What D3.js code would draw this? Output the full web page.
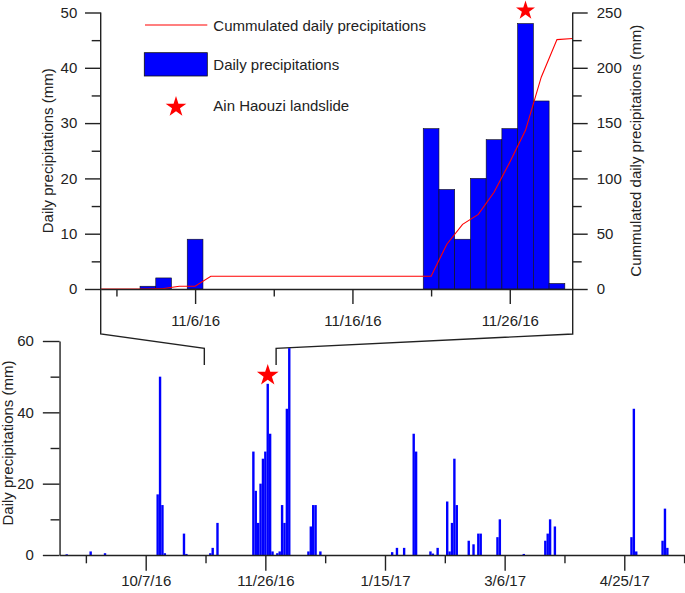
<!DOCTYPE html>
<html lang="en">

<head>
  <meta charset="UTF-8">
  <title>Daily precipitations</title>
  <script src="https://d3js.org/d3.v7.min.js"></script>
  <style>
    body { margin: 0; background: #fff; }
    text { font-family: "Liberation Sans", Arial, sans-serif; font-size: 15px; fill: #222; }
  </style>
</head>

<body>
  <script>
    // ---- data ----
    // zoomed window, daily precipitations (mm)
    const topDays = ["2016-11-03", "2016-11-04", "2016-11-06", "2016-11-21", "2016-11-22", "2016-11-23",
      "2016-11-24", "2016-11-25", "2016-11-26", "2016-11-27", "2016-11-28", "2016-11-29"];
    const topDaily = [0.5, 2, 9, 29, 18, 9, 20, 27, 29, 48, 34, 1];

    // cumulated precipitations (mm)
    const cumDays = ["2016-10-31", "2016-11-03", "2016-11-04", "2016-11-05", "2016-11-06", "2016-11-07",
      "2016-11-21", "2016-11-22", "2016-11-23", "2016-11-24", "2016-11-25", "2016-11-26",
      "2016-11-27", "2016-11-28", "2016-11-29", "2016-11-30"];
    const cumValues = [0, 0, 0.5, 2.5, 2.5, 11.5, 11.5, 40.5, 58.5, 67.5, 87.5, 114.5, 143.5, 191.5, 225.5, 226.5];

    // full season, daily precipitations (mm)
    const seasonDays = [
      "2016-09-04", "2016-09-14", "2016-09-20",
      "2016-10-12", "2016-10-13", "2016-10-14", "2016-10-15", "2016-10-23", "2016-10-24",
      "2016-11-03", "2016-11-04", "2016-11-06",
      "2016-11-21", "2016-11-22", "2016-11-23", "2016-11-24", "2016-11-25", "2016-11-26", "2016-11-27", "2016-11-28", "2016-11-29",
      "2016-12-01", "2016-12-02", "2016-12-03", "2016-12-04", "2016-12-05", "2016-12-06",
      "2016-12-14", "2016-12-15", "2016-12-16", "2016-12-17", "2016-12-19",
      "2017-01-18", "2017-01-20", "2017-01-23", "2017-01-27", "2017-01-28",
      "2017-02-03", "2017-02-04", "2017-02-06", "2017-02-10", "2017-02-11", "2017-02-12", "2017-02-13", "2017-02-14",
      "2017-02-19", "2017-02-21", "2017-02-23", "2017-02-24",
      "2017-03-03", "2017-03-04", "2017-03-14", "2017-03-23", "2017-03-24", "2017-03-25", "2017-03-27",
      "2017-04-28", "2017-04-29", "2017-04-30",
      "2017-05-11", "2017-05-12", "2017-05-13"];
    const seasonValues = [
      0.2, 1, 0.5,
      17, 50, 14, 0.5, 6, 0.3,
      0.5, 2, 9,
      29, 18, 9, 20, 27, 29, 48, 34, 1,
      0.5, 1, 14, 9, 41, 58,
      1, 8, 14, 14, 1,
      0.8, 2, 2, 34, 29,
      1, 0.4, 2, 15, 1, 9, 27, 14,
      4, 3, 6, 6,
      5, 10, 0.3, 4, 6, 10, 8,
      5, 41, 1,
      4, 13, 2];

    const landslideDay = "2016-11-27";
    const landslideValue = 48;

    const topRange = ["2016-10-31", "2016-11-30"];
    const topMajorTicks = ["2016-11-06", "2016-11-16", "2016-11-26"];
    const topMinorTicks = ["2016-11-01", "2016-11-11", "2016-11-21"];
    const seasonRange = ["2016-09-01", "2017-05-21"];
    const seasonMajorTicks = ["2016-10-07", "2016-11-26", "2017-01-15", "2017-03-06", "2017-04-25"];
    const seasonMinorTicks = ["2016-09-12", "2016-11-01", "2016-12-21", "2017-02-09", "2017-03-31", "2017-05-20"];

    const legendLabels = ["Cummulated daily precipitations", "Daily precipitations", "Ain Haouzi landslide"];

    // ---- setup ----
    const parse = d3.utcParse("%Y-%m-%d");
    const fmt = d3.utcFormat("%-m/%-d/%y");
    const DAY = 864e5;
    const blue = "#0000ff";
    const red = "#ff0000";
    const ink = "#222";

    const svg = d3.select("body")
      .append("svg")
      .attr("width", 685)
      .attr("height", 593);

    // top chart scales
    const xTop = d3.scaleUtc().domain(topRange.map(parse)).range([100.7, 572.7]);
    const yTop = d3.scaleLinear().domain([0, 50]).range([289, 12.5]);
    const yCum = d3.scaleLinear().domain([0, 250]).range([289, 12.5]);

    // bottom chart scales
    const xBot = d3.scaleUtc().domain(seasonRange.map(parse)).range([59.55, 686.5]);
    const yBot = d3.scaleLinear().domain([0, 60]).range([555, 341]);

    const styleAxis = g => {
      g.selectAll("path, line").attr("stroke", ink).attr("stroke-width", 1.4);
      g.selectAll("text").attr("font-size", 15).attr("font-family", null).attr("fill", ink);
    };

    // ---- top chart ----
    const topBars = topDays.map((d, i) => ({ date: parse(d), value: topDaily[i] }));
    const topW = xTop(new Date(DAY)) - xTop(new Date(0));

    svg.append("g")
      .selectAll("rect")
      .data(topBars)
      .join("rect")
      .attr("x", d => xTop(d.date) - topW / 2)
      .attr("y", d => yTop(d.value))
      .attr("width", topW)
      .attr("height", d => yTop(0) - yTop(d.value))
      .attr("fill", blue)
      .attr("stroke", "#111")
      .attr("stroke-width", 0.6);

    const cum = cumDays.map((d, i) => ({ date: parse(d), value: cumValues[i] }));
    svg.append("path")
      .datum(cum)
      .attr("fill", "none")
      .attr("stroke", red)
      .attr("stroke-width", 1.1)
      .attr("d", d3.line().x(d => xTop(d.date)).y(d => yCum(d.value)));

    // top x axis
    svg.append("g")
      .attr("transform", `translate(0,${yTop(0)})`)
      .call(d3.axisBottom(xTop).tickValues(topMajorTicks.map(parse)).tickFormat(fmt)
        .tickSize(15).tickSizeOuter(0).tickPadding(11))
      .call(styleAxis);
    svg.append("g")
      .attr("transform", `translate(0,${yTop(0)})`)
      .call(d3.axisBottom(xTop).tickValues(topMinorTicks.map(parse)).tickFormat("").tickSize(7.5))
      .call(g => g.select(".domain").remove())
      .call(styleAxis);

    // top left axis
    svg.append("g")
      .attr("transform", `translate(${xTop.range()[0]},0)`)
      .call(d3.axisLeft(yTop).tickValues(d3.range(0, 51, 10)).tickSize(15.7).tickPadding(7.7))
      .call(g => g.select(".domain").remove())
      .call(styleAxis);
    svg.append("g")
      .attr("transform", `translate(${xTop.range()[0]},0)`)
      .call(d3.axisLeft(yTop).tickValues(d3.range(5, 50, 10)).tickFormat("").tickSize(9))
      .call(g => g.select(".domain").remove())
      .call(styleAxis);

    // top right axis
    svg.append("g")
      .attr("transform", `translate(${xTop.range()[1]},0)`)
      .call(d3.axisRight(yCum).tickValues(d3.range(0, 251, 50)).tickSize(15).tickPadding(9))
      .call(g => g.select(".domain").remove())
      .call(styleAxis);
    svg.append("g")
      .attr("transform", `translate(${xTop.range()[1]},0)`)
      .call(d3.axisRight(yCum).tickValues(d3.range(25, 250, 50)).tickFormat("").tickSize(9))
      .call(g => g.select(".domain").remove())
      .call(styleAxis);

    // axis titles
    svg.append("text")
      .attr("transform", `translate(52.5,${(yTop(0) + yTop(50)) / 2}) rotate(-90)`)
      .attr("text-anchor", "middle")
      .text("Daily precipitations (mm)");
    svg.append("text")
      .attr("transform", `translate(640.7,${(yTop(0) + yTop(50)) / 2}) rotate(-90)`)
      .attr("text-anchor", "middle")
      .text("Cummulated daily precipitations (mm)");

    // star over the landslide day
    const star = s => d3.symbol().type(d3.symbolStar).size(s)();
    svg.append("path")
      .attr("d", star(112))
      .attr("fill", red)
      .attr("transform", `translate(${xTop(parse(landslideDay))},${yTop(landslideValue) - 13})`);

    // legend
    const lg = svg.append("g");
    lg.append("line")
      .attr("x1", 145).attr("x2", 207.3).attr("y1", 25).attr("y2", 25)
      .attr("stroke", red).attr("stroke-width", 1.1);
    lg.append("rect")
      .attr("x", 144.3).attr("y", 52.7).attr("width", 63).attr("height", 23.3)
      .attr("fill", blue).attr("stroke", "#111").attr("stroke-width", 0.8);
    lg.append("path")
      .attr("d", star(133))
      .attr("fill", red)
      .attr("transform", "translate(176,107)");
    lg.selectAll("text")
      .data(legendLabels)
      .join("text")
      .attr("x", 213.3)
      .attr("y", (d, i) => [30.5, 70, 111][i])
      .text(d => d);

    // ---- zoom connectors ----
    const halfDay = d => new Date(parse(d).getTime() + DAY / 2);
    svg.append("path")
      .attr("fill", "none").attr("stroke", ink).attr("stroke-width", 1.4)
      .attr("d", `M${xTop.range()[0]},${yTop(50)}V334L${xBot(halfDay(topRange[0]))},348.3V365`);
    svg.append("path")
      .attr("fill", "none").attr("stroke", ink).attr("stroke-width", 1.4)
      .attr("d", `M${xTop.range()[1]},${yCum(250)}V334L${xBot(halfDay(topRange[1]))},348.3V365`);

    // ---- bottom chart ----
    const botBars = seasonDays.map((d, i) => ({ date: parse(d), value: seasonValues[i] }));
    const botW = xBot(new Date(DAY)) - xBot(new Date(0));

    svg.append("g")
      .selectAll("rect")
      .data(botBars)
      .join("rect")
      .attr("x", d => xBot(d.date) - botW / 2)
      .attr("y", d => yBot(d.value))
      .attr("width", botW)
      .attr("height", d => yBot(0) - yBot(d.value))
      .attr("fill", blue);

    svg.append("g")
      .attr("transform", `translate(0,${yBot(0)})`)
      .call(d3.axisBottom(xBot).tickValues(seasonMajorTicks.map(parse)).tickFormat(fmt)
        .tickSize(15.7).tickSizeOuter(0).tickPadding(5))
      .call(styleAxis);
    svg.append("g")
      .attr("transform", `translate(0,${yBot(0)})`)
      .call(d3.axisBottom(xBot).tickValues(seasonMinorTicks.map(parse)).tickFormat("").tickSize(8.3))
      .call(g => g.select(".domain").remove())
      .call(styleAxis);

    svg.append("g")
      .attr("transform", `translate(${xBot.range()[0]},0)`)
      .call(d3.axisLeft(yBot).tickValues(d3.range(0, 61, 20)).tickSize(16.7).tickPadding(9).tickSizeOuter(0))
      .call(styleAxis);
    svg.append("g")
      .attr("transform", `translate(${xBot.range()[0]},0)`)
      .call(d3.axisLeft(yBot).tickValues(d3.range(10, 60, 20)).tickFormat("").tickSize(9))
      .call(g => g.select(".domain").remove())
      .call(styleAxis);

    svg.append("text")
      .attr("transform", `translate(12.5,443) rotate(-90)`)
      .attr("text-anchor", "middle")
      .text("Daily precipitations (mm)");

    svg.append("path")
      .attr("d", star(146))
      .attr("fill", red)
      .attr("transform", `translate(${xBot(parse(landslideDay))},${yBot(landslideValue) - 8.5})`);
  </script>
</body>

</html>
